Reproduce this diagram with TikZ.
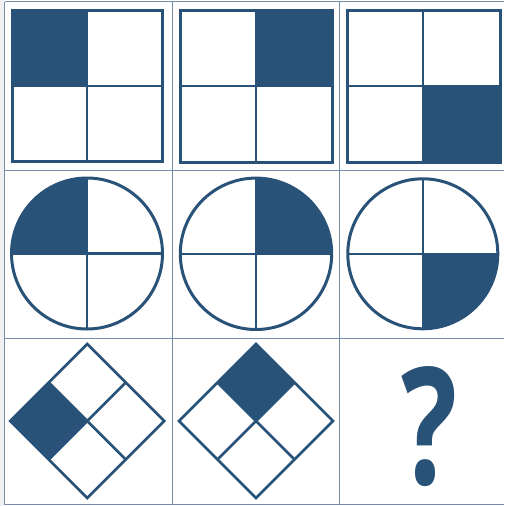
\documentclass[tikz,border=0pt]{standalone}
\usepackage{fontspec}
\newfontfamily\qfont{Open Sans}
\definecolor{navy}{RGB}{41,82,120}
\definecolor{gridc}{RGB}{118,140,168}
\definecolor{strip}{RGB}{240,240,242}
\begin{document}
\begin{tikzpicture}[x=1pt,y=-1pt,
  outer/.style={draw=navy,line width=3pt},
  inner/.style={draw=navy,line width=2.6pt},
  gridline/.style={draw=gridc,line width=1pt},
  shade/.style={fill=navy}]
\useasboundingbox (0,0) rectangle (504,506);
\fill[white] (0,0) rectangle (504,506);
\fill[strip] (0,0) rectangle (4,506);
% grid
\draw[gridline] (4.5,1.5) -- (4.5,504.5);
\draw[gridline] (172,1.5) -- (172,504.5);
\draw[gridline] (339,1.5) -- (339,504.5);
\draw[gridline] (4.5,1.8) -- (504,1.8);
\draw[gridline] (4.5,170) -- (504,170);
\draw[gridline] (4.5,338) -- (504,338);
\draw[gridline] (4.5,504.2) -- (504,504.2);
% row 1: squares
\fill[shade] (12,10) rectangle (87,86);
\draw[inner] (87,10) -- (87,161) (12,86) -- (162,86);
\draw[outer] (12,10) rectangle (162,161);
\fill[shade] (256,10) rectangle (332,86);
\draw[inner] (256,10) -- (256,162) (180,86) -- (332,86);
\draw[outer] (180,10) rectangle (332,162);
\fill[shade] (423,86) rectangle (500,162);
\draw[inner] (423,10) -- (423,162) (347,86) -- (500,86);
\draw[outer] (347,10) rectangle (500,162);
% row 2: circles
\begin{scope}
\clip (87,253.5) circle (75.5);
\fill[shade] (87,253.5) rectangle (10,176);
\end{scope}
\draw[inner] (87,178) -- (87,329) (11.5,253.5) -- (162.5,253.5);
\draw[outer] (87,253.5) circle (75.5);
\begin{scope}
\clip (256,253.8) circle (75.7);
\fill[shade] (256,253.8) rectangle (334,176);
\end{scope}
\draw[inner] (256,178) -- (256,329.5) (180.3,253.8) -- (331.7,253.8);
\draw[outer] (256,253.8) circle (75.7);
\begin{scope}
\clip (422.8,253.8) circle (75);
\fill[shade] (422.8,253.8) rectangle (500,331);
\end{scope}
\draw[inner] (422.8,178.8) -- (422.8,328.8) (347.8,253.8) -- (497.8,253.8);
\draw[outer] (422.8,253.8) circle (75);
% row 3: diamonds
\fill[shade] (87.3,421) -- (48.8,382.5) -- (10.3,421) -- (48.8,459.5) -- cycle;
\draw[inner] (48.8,382.5) -- (125.8,459.5) (125.8,382.5) -- (48.8,459.5);
\draw[inner] (87.3,344) -- (164.3,421) -- (87.3,498) -- (10.3,421) -- cycle;
\fill[shade] (256,421) -- (217.5,382.5) -- (256,344) -- (294.5,382.5) -- cycle;
\draw[inner] (217.5,382.5) -- (294.5,459.5) (294.5,382.5) -- (217.5,459.5);
\draw[inner] (256,344) -- (333,421) -- (256,498) -- (179,421) -- cycle;
% question mark
\node[anchor=base,inner sep=0pt,text=navy,xscale=0.72,font=\qfont\bfseries\fontsize{163}{163}\selectfont] (q) at (429,484) {?};
\end{tikzpicture}
\end{document}
